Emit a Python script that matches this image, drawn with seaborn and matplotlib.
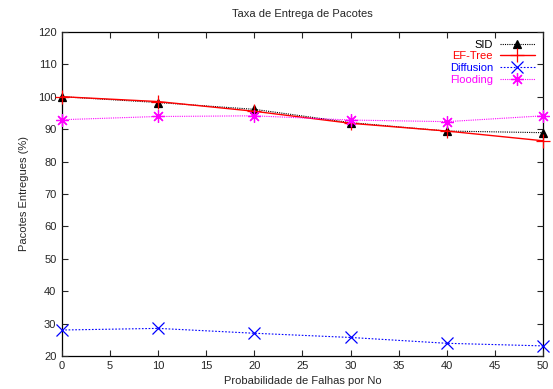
import matplotlib
matplotlib.use("Agg")
import matplotlib.pyplot as plt
import seaborn as sns
import pandas as pd

# data
prob = [0, 10, 20, 30, 40, 50]
sid = [100, 98.2, 96.1, 92.0, 89.4, 88.9]
ef_tree = [100, 98.5, 95.5, 91.8, 89.4, 86.4]
diffusion = [28.0, 28.5, 27.0, 25.7, 23.9, 23.1]
flooding = [92.9, 93.9, 94.1, 92.8, 92.3, 94.1]

names = ["SID", "EF-Tree", "Diffusion", "Flooding"]
series = [sid, ef_tree, diffusion, flooding]
colors = ["black", "red", "blue", "magenta"]
markers = ["^", "+", "x", (8, 2, 0)]
sizes = [6, 10, 8, 9]
dashes = [(1, 1), "", (1.5, 1.5), (1, 1)]

sns.set_style("ticks")
plt.rcParams["font.family"] = ["Liberation Sans", "DejaVu Sans"]

fig = plt.figure(figsize=(5.53, 3.89), dpi=100)
ax = fig.add_axes([0.112, 0.085, 0.870, 0.833])

for name, vals, c, m, s, d in zip(names, series, colors, markers, sizes, dashes):
    df = pd.DataFrame({"x": prob, "y": vals})
    sns.lineplot(data=df, x="x", y="y", ax=ax, color=c, marker=m,
                 markersize=s, markeredgewidth=0.9, markeredgecolor=c,
                 markerfacecolor=c, label=name, clip_on=False,
                 linewidth=1.0 if d == "" else 0.8)
    if d != "":
        ax.lines[-1].set_dashes(d)

ax.set_xlim(0, 50)
ax.set_ylim(20, 120)
ax.set_xticks(range(0, 51, 5))
ax.set_yticks(range(20, 121, 10))
ax.tick_params(direction="in", top=True, right=True, labelsize=8, length=4,
               width=0.8, pad=4)
for sp in ax.spines.values():
    sp.set_linewidth(0.9)
    sp.set_color("black")
    sp.set_zorder(0)

ax.set_title("Taxa de Entrega de Pacotes", fontsize=8, pad=11)
ax.set_xlabel("Probabilidade de Falhas por No", fontsize=8, labelpad=3)
ax.set_ylabel("Pacotes Entregues (%)", fontsize=8, labelpad=6)

leg = ax.legend(loc="upper right", markerfirst=False, frameon=False,
                fontsize=8, labelcolor="linecolor", handlelength=3.2,
                handletextpad=0.6, labelspacing=0.15, borderaxespad=0.3)

fig.savefig("out.png", dpi=100)
plt.close(fig)
